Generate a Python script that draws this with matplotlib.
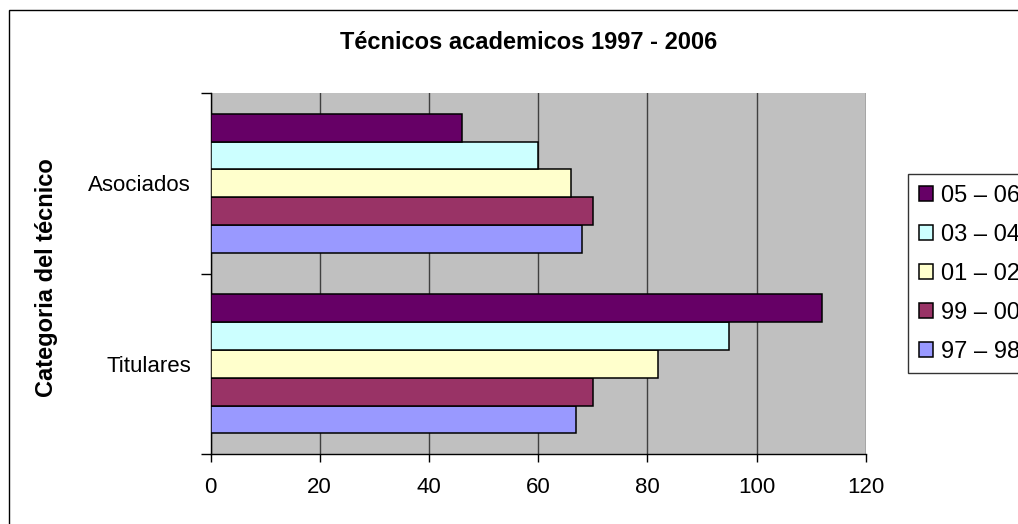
import matplotlib
matplotlib.use("Agg")
import matplotlib.pyplot as plt
from matplotlib.patches import Rectangle
import numpy as np

categories = ["Titulares", "Asociados"]
series_names = ["97 – 98", "99 – 00", "01 – 02", "03 – 04", "05 – 06"]
values_97_98 = [67, 68]
values_99_00 = [70, 70]
values_01_02 = [82, 66]
values_03_04 = [95, 60]
values_05_06 = [112, 46]
series_values = [values_97_98, values_99_00, values_01_02, values_03_04, values_05_06]
colors = ["#9999FF", "#993366", "#FFFFCC", "#CCFFFF", "#660066"]
x_ticks = [0, 20, 40, 60, 80, 100, 120]

plt.rcParams['font.family'] = ['Liberation Sans', 'DejaVu Sans']

W, H = 1018, 524
fig = plt.figure(figsize=(W / 100, H / 100), dpi=100)
fig.patch.set_facecolor("white")

# outer chart border (extends beyond the image on right/bottom)
fig.patches.append(Rectangle((9 / W, -0.1), 1.2, 1 - 10 / H + 0.1,
                             transform=fig.transFigure, fill=False,
                             edgecolor="black", linewidth=1.0, clip_on=False))

left, right, top, bottom = 210.5, 866, 93, 454.3
ax = fig.add_axes([left / W, 1 - bottom / H, (right - left) / W, (bottom - top) / H])
ax.set_facecolor("#C0C0C0")

n = len(series_values)
group = 1 / 1.3
bh = group / n
y = np.arange(len(categories))
for i, (vals, c, name) in enumerate(zip(series_values, colors, series_names)):
    ax.barh(y - group / 2 + (i + 0.5) * bh, vals, height=bh, color=c,
            edgecolor="black", linewidth=1.1, label=name, zorder=3)

ax.set_xlim(0, 120)
ax.set_ylim(-0.5, len(categories) - 0.5)
ax.set_xticks(x_ticks)
ax.set_xticklabels([str(t) for t in x_ticks], fontsize=16)
ax.grid(axis="x", color="#404040", linewidth=1.0, zorder=1)
ax.set_axisbelow(True)

ax.set_yticks(np.arange(-0.5, len(categories), 1.0))
ax.set_yticklabels([])
ax.set_yticks(y, minor=True)
ax.set_yticklabels(categories, minor=True, fontsize=16)
ax.tick_params(axis="y", which="minor", length=0, pad=14)
ax.tick_params(axis="y", which="major", length=7, width=1, direction="out")
ax.tick_params(axis="x", length=6, width=1, direction="out", pad=10)

for s in ["top", "right"]:
    ax.spines[s].set_visible(False)
for s in ["left", "bottom"]:
    ax.spines[s].set_color("black")
    ax.spines[s].set_linewidth(1.0)

fig.text(528.5 / W, 1 - 43 / H, "Técnicos academicos 1997 - 2006",
         ha="center", va="center", fontsize=17, fontweight="bold")
fig.text(47 / W, 1 - 278 / H, "Categoria del técnico", rotation=90,
         ha="center", va="center", fontsize=17, fontweight="bold")

handles, labels = ax.get_legend_handles_labels()
leg = fig.legend(handles[::-1], labels[::-1], loc="upper left",
                 bbox_to_anchor=(908 / W, 1 - 174 / H), bbox_transform=fig.transFigure,
                 fontsize=17, frameon=True, fancybox=False, borderaxespad=0,
                 borderpad=0.45, handlelength=0.6, handleheight=0.6,
                 handletextpad=0.35, labelspacing=0.72)
leg.get_frame().set_edgecolor("black")
leg.get_frame().set_linewidth(1.0)

fig.savefig("out.png", dpi=100)
